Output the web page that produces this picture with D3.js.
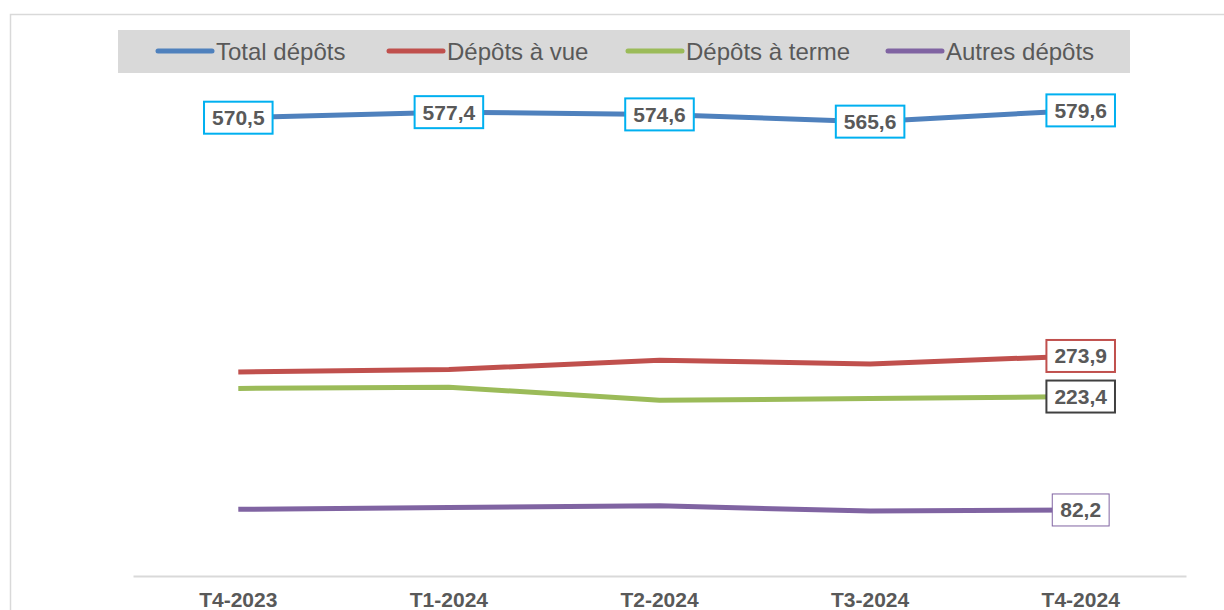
<!DOCTYPE html>
<html lang="fr">
<head>
<meta charset="UTF-8">
<title>Dépôts</title>
<style>
  body { margin: 0; background: #fff; }
  svg { display: block; font-family: "Liberation Sans", Arial, sans-serif; }
  .legend-text { font-size: 24px; fill: #595959; }
  .tick-label { font-size: 21px; font-weight: bold; fill: #595959; }
  .data-label { font-size: 21px; font-weight: bold; fill: #595959; }
</style>
</head>
<body>
<svg id="chart"></svg>
<script src="https://d3js.org/d3.v7.min.js"></script>
<script>
// data (milliards)
const quarters = ["T4-2023", "T1-2024", "T2-2024", "T3-2024", "T4-2024"];
const totalDepots = [570.5, 577.4, 574.6, 565.6, 579.6];
const depotsVue = [254.0, 257.0, 268.5, 264.0, 273.9];
const depotsTerme = [233.5, 235.0, 218.8, 220.8, 223.4];
const autresDepots = [83.0, 85.4, 87.3, 80.8, 82.2];
const seriesNames = ["Total dépôts", "Dépôts à vue", "Dépôts à terme", "Autres dépôts"];

const W = 1224, H = 610;
const plot = { left: 133, right: 1186, top: 94, bottom: 576 };

const series = [
  { name: seriesNames[0], values: totalDepots, color: "#4f81bd", labels: "all", box: "#00b0f0", boxW: 2 },
  { name: seriesNames[1], values: depotsVue, color: "#c0504d", labels: "last", box: "#c0504d", boxW: 2 },
  { name: seriesNames[2], values: depotsTerme, color: "#9bbb59", labels: "last", box: "#404040", boxW: 2 },
  { name: seriesNames[3], values: autresDepots, color: "#8064a2", labels: "last", box: "#8064a2", boxW: 1 }
];

const svg = d3.select("#chart").attr("width", W).attr("height", H);

// outer chart frame
svg.append("rect")
  .attr("x", 10.5).attr("y", 14.5)
  .attr("width", 1300).attr("height", 700)
  .attr("fill", "none").attr("stroke", "#d9d9d9").attr("stroke-width", 1.5);

const x = d3.scaleBand().domain(quarters).range([plot.left, plot.right]);
const y = d3.scaleLinear().domain([0, 600]).range([plot.bottom, plot.top]);

// legend
svg.append("rect")
  .attr("x", 118).attr("y", 30).attr("width", 1012).attr("height", 43)
  .attr("fill", "#d9d9d9");

const legendX = [158, 389, 628, 888];
const lg = svg.selectAll(".legend").data(series).enter().append("g")
  .attr("class", "legend")
  .attr("transform", (d, i) => `translate(${legendX[i]},51)`);
lg.append("line")
  .attr("x1", 0).attr("x2", 54).attr("y1", 0).attr("y2", 0)
  .attr("stroke", d => d.color).attr("stroke-width", 5).attr("stroke-linecap", "round");
lg.append("text")
  .attr("class", "legend-text")
  .attr("x", 58).attr("y", 8.5)
  .text(d => d.name);

// x axis
const xAxis = d3.axisBottom(x).tickSize(0).tickPadding(0);
const gx = svg.append("g").attr("transform", `translate(0,${plot.bottom})`).call(xAxis);
gx.select(".domain").attr("stroke", "#d9d9d9").attr("stroke-width", 2);
gx.selectAll(".tick text")
  .attr("class", "tick-label")
  .attr("fill", null)
  .attr("font-size", null).attr("font-family", null)
  .attr("dy", null).attr("y", 31);

// lines
const line = d3.line()
  .x((d, i) => x(quarters[i]) + x.bandwidth() / 2)
  .y(d => y(d));

svg.selectAll(".series").data(series).enter().append("path")
  .attr("class", "series")
  .attr("d", d => line(d.values))
  .attr("fill", "none")
  .attr("stroke", d => d.color)
  .attr("stroke-width", 5)
  .attr("stroke-linejoin", "round");

// data labels
const fmt = v => v.toFixed(1).replace(".", ",");
series.forEach(s => {
  const idx = s.labels === "all" ? s.values.map((v, i) => i) : [s.values.length - 1];
  idx.forEach(i => {
    const cx = x(quarters[i]) + x.bandwidth() / 2;
    const cy = y(s.values[i]);
    const g = svg.append("g").attr("transform", `translate(${cx},${cy})`);
    const r = g.append("rect");
    const t = g.append("text")
      .attr("class", "data-label")
      .attr("text-anchor", "middle")
      .attr("y", 7.5)
      .text(fmt(s.values[i]));
    const w = t.node().getComputedTextLength() + 16;
    r.attr("x", -w / 2).attr("y", -16).attr("width", w).attr("height", 32)
      .attr("fill", "#fff").attr("stroke", s.box).attr("stroke-width", s.boxW);
  });
});
</script>
</body>
</html>
